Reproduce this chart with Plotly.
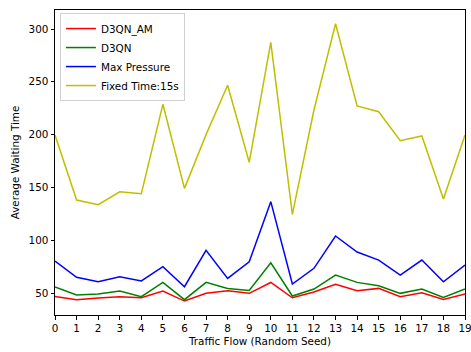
import plotly.graph_objects as go

seeds = list(range(20))
d3qn_am = [46.8, 43.7, 45.3, 46.5, 45.6, 51.9, 42.4, 49.7, 52.2, 49.7,
           60.0, 45.5, 51.0, 58.2, 52.2, 54.4, 46.5, 50.3, 44.0, 49.0]
d3qn = [55.7, 48.1, 49.1, 51.9, 46.5, 60.1, 43.7, 60.1, 54.4, 52.5,
        78.7, 47.2, 53.8, 67.0, 60.1, 56.9, 49.7, 53.8, 45.9, 53.8]
max_pressure = [80.3, 64.9, 60.7, 65.4, 61.4, 74.9, 56.0, 90.4, 63.9, 79.6,
                136.5, 58.5, 73.4, 104.0, 88.8, 81.2, 67.0, 81.2, 60.7, 76.5]
fixed_time = [199.6, 138.1, 133.6, 145.9, 144.0, 228.7, 149.1, 200.0, 246.7, 173.8,
              287.4, 124.5, 223.3, 305.0, 227.1, 221.7, 194.2, 198.7, 139.0, 199.6]

series = [
    ("D3QN_AM", d3qn_am, "#ff0000"),
    ("D3QN", d3qn, "#008000"),
    ("Max Pressure", max_pressure, "#0000ff"),
    ("Fixed Time:15s", fixed_time, "#bfbf00"),
]

fig = go.Figure()
for name, vals, color in series:
    fig.add_trace(go.Scatter(x=seeds, y=vals, mode="lines", name=name,
                             line=dict(color=color, width=1.5)))

font = dict(family="DejaVu Sans", size=10.4, color="#000000")
fig.update_layout(
    width=471, height=352,
    margin=dict(l=55, r=6, t=10, b=37, autoexpand=False),
    paper_bgcolor="white", plot_bgcolor="white",
    font=font,
    showlegend=True,
    legend=dict(x=0.012, y=0.99, xanchor="left", yanchor="top",
                bgcolor="rgba(255,255,255,0.8)", bordercolor="#d0d0d0", borderwidth=1,
                font=font, tracegroupgap=0, itemwidth=30),
)
fig.update_xaxes(
    range=[0, 19], tickmode="linear", tick0=0, dtick=1, automargin=False,
    showgrid=False, zeroline=False, ticklabeloverflow="allow",
    showline=True, linecolor="black", linewidth=1, mirror=True,
    ticks="outside", ticklen=3.5, tickcolor="black", tickwidth=1,
    title=dict(text="Traffic Flow (Random Seed)", font=font, standoff=4),
)
fig.update_yaxes(
    range=[29.2, 318], tickmode="array", tickvals=[50, 100, 150, 200, 250, 300],
    showgrid=False, zeroline=False, automargin=False,
    showline=True, linecolor="black", linewidth=1, mirror=True,
    ticks="outside", ticklen=3.5, tickcolor="black", tickwidth=1,
    title=dict(text="Average Waiting Time", font=font, standoff=6),
)
fig.write_html("out.html", config={"displayModeBar": False},
               post_script="document.body.style.margin='0';document.body.style.overflow='hidden';")
